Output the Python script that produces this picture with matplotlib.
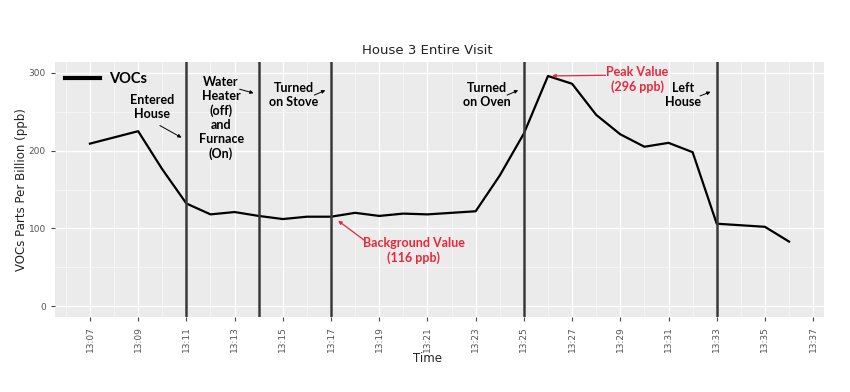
import pandas as pd
import matplotlib
matplotlib.use('Agg')
import matplotlib.pyplot as plt
import matplotlib.dates as mdates

# VOC readings (ppb) for the whole visit
times = ['13:07', '13:09', '13:10', '13:11', '13:12', '13:13', '13:14', '13:15',
         '13:16', '13:17', '13:18', '13:19', '13:20', '13:21', '13:22', '13:23',
         '13:24', '13:25', '13:26', '13:27', '13:28', '13:29', '13:30', '13:31',
         '13:32', '13:33', '13:35', '13:36']
vocs = [209, 225, 176, 132, 118, 121, 116, 112,
        115, 115, 120, 116, 119, 118, 120, 122,
        168, 222, 296, 286, 246, 221, 205, 210,
        198, 106, 102, 83]

event_times = ['13:11', '13:14', '13:17', '13:25', '13:33']
event_labels = ['Entered\nHouse', 'Water\nHeater\n(off)\nand\nFurnace\n(On)',
                'Turned\non Stove', 'Turned\non Oven', 'Left\nHouse']

day = '2020-01-01 '
base = pd.Timestamp(day + '13:00')
t = pd.to_datetime([day + s for s in times])
ev = pd.to_datetime([day + s for s in event_times])


def mins(m):
    return base + pd.Timedelta(minutes=m)


fig = plt.figure(figsize=(8.5, 3.92), dpi=100)
ax = fig.add_axes([55 / 850, 1 - 317 / 392, 769 / 850, 255 / 392])
ax.set_facecolor('#ebebeb')
for s in ax.spines.values():
    s.set_visible(False)

ax.xaxis.set_major_locator(mdates.MinuteLocator(byminute=range(1, 60, 2)))
ax.xaxis.set_minor_locator(mdates.MinuteLocator(byminute=range(0, 60, 2)))
ax.xaxis.set_major_formatter(mdates.DateFormatter('%H:%M'))
ax.set_yticks([0, 100, 200, 300])
ax.set_yticks([50, 150, 250], minor=True)
ax.grid(which='major', color='white', lw=1.0)
ax.grid(which='minor', color='#f6f6f6', lw=0.6)
ax.set_axisbelow(True)
ax.tick_params(which='major', length=3, color='#444444', labelcolor='#555555', labelsize=6.5)
ax.tick_params(which='minor', length=0)
plt.setp(ax.get_xticklabels(), rotation=90)

ax.set_xlim(mins(5.55), mins(37.45))
ax.set_ylim(-14, 314)

ax.plot(t, vocs, color='black', lw=1.6, label='VOCs', zorder=3)
for x in ev:
    ax.axvline(x, color='#3a3a3a', lw=1.8, zorder=4)

ax.set_title('House 3 Entire Visit', fontsize=9.5, color='#222222', pad=6, x=0.484)
ax.set_xlabel('Time', fontsize=8.5, color='#222222')
ax.xaxis.set_label_coords(0.484, -0.137)
ax.set_ylabel('VOCs Parts Per Billion (ppb)', fontsize=8.5, color='#222222')
ax.yaxis.set_label_coords(-0.035, 0.5)

leg = ax.legend(loc='upper left', frameon=False,
                prop={'family': 'Lato', 'weight': 'bold', 'size': 10.5},
                handlelength=2.4, handletextpad=0.6, borderaxespad=0.3)
for h in leg.get_lines():
    h.set_linewidth(3)

font = {'family': 'Lato', 'weight': 'bold', 'size': 9}
arrow = dict(arrowstyle='-|>', color='black', lw=0.7, mutation_scale=5)
# event labels: (text x, text y, arrow start x, y, arrow end x, y) in minutes past 13:00 / ppb
spots = [(9.57, 256, 9.8, 234, 10.9, 215),
         (12.44, 242, 13.1, 280, 13.9, 273),
         (15.45, 271, 16.2, 270, 16.87, 279),
         (23.45, 271, 24.2, 270, 24.87, 279),
         (31.6, 271, 32.2, 269, 32.85, 277)]
for lab, (tx, ty, ax0, ay0, ax1, ay1) in zip(event_labels, spots):
    ax.text(mins(tx), ty, lab, ha='center', va='center',
            linespacing=1.2, zorder=5, **font)
    ax.annotate('', xy=(mins(ax1), ay1), xytext=(mins(ax0), ay0),
                arrowprops=arrow, zorder=5)

red = '#e8283a'
ax.text(mins(29.7), 292, 'Peak Value\n(296 ppb)', color=red,
        ha='center', va='center', linespacing=1.2, **font)
ax.annotate('', xy=(mins(26.05), 296), xytext=(mins(28.5), 297),
            arrowprops=dict(arrowstyle='-|>', color=red, lw=0.9, mutation_scale=5))
ax.text(mins(20.44), 72, 'Background Value\n(116 ppb)', color=red,
        ha='center', va='center', linespacing=1.2, **font)
ax.annotate('', xy=(mins(17.2), 112), xytext=(mins(18.5), 82),
            arrowprops=dict(arrowstyle='-|>', color=red, lw=0.9, mutation_scale=5))

fig.savefig('out.png', dpi=100)
